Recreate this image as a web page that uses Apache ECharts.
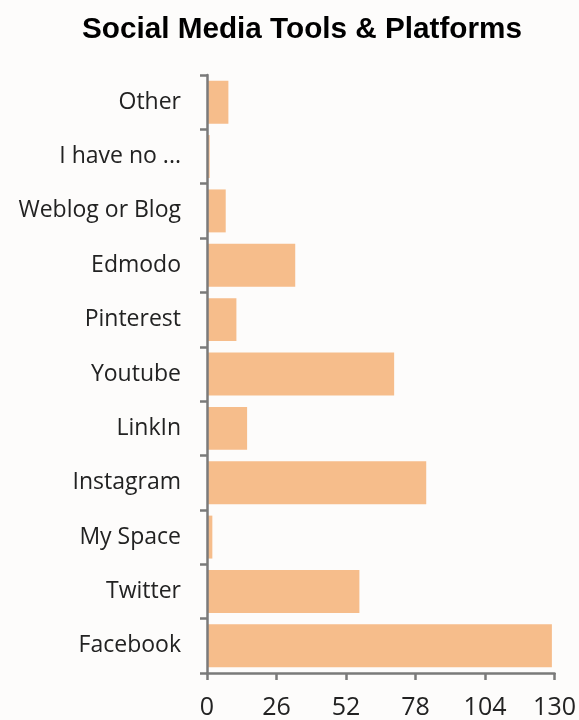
<!DOCTYPE html>
<html><head><meta charset="utf-8">
<script src="https://cdn.jsdelivr.net/npm/echarts@6/dist/echarts.min.js"></script>
<style>html,body{margin:0;padding:0;background:#fdfcfb;}#c{width:579px;height:720px;}</style>
</head><body><div id="c"></div>
<script>
const categories = ["Facebook","Twitter","My Space","Instagram","LinkIn","Youtube","Pinterest","Edmodo","Weblog or Blog","I have no ...","Other"];
const values = [129,57,2,82,15,70,11,33,7,1,8];
const xTicks = [0,26,52,78,104,130];
const chart = echarts.init(document.getElementById('c'));
chart.setOption({
  backgroundColor:'#fdfcfb',
  animation:false,
  title:{text:'Social Media Tools & Platforms',left:77,top:10,
    textStyle:{fontFamily:'Liberation Sans, Arial',fontWeight:'bold',fontSize:29.7,color:'#000'}},
  grid:{left:207,right:24,top:75,bottom:46,containLabel:false},
  xAxis:{type:'value',min:xTicks[0],max:xTicks[xTicks.length-1],interval:26,z:5,
    axisLine:{show:true,lineStyle:{color:'#7a7a7a',width:2.5}},
    axisTick:{show:true,length:7,lineStyle:{color:'#7a7a7a',width:2.5}},
    splitLine:{show:false},
    axisLabel:{fontFamily:'Open Sans',fontSize:25,color:'#222',margin:22}},
  yAxis:{type:'category',data:categories,z:5,
    axisLine:{show:true,lineStyle:{color:'#7a7a7a',width:2.5}},
    axisTick:{show:true,length:7,lineStyle:{color:'#7a7a7a',width:2.5}},
    axisLabel:{fontFamily:'Open Sans',fontSize:23,color:'#222',margin:26}},
  series:[{type:'bar',data:values,barCategoryGap:'21%',
    itemStyle:{color:'#f6bd8b'}}]
});
</script></body></html>
